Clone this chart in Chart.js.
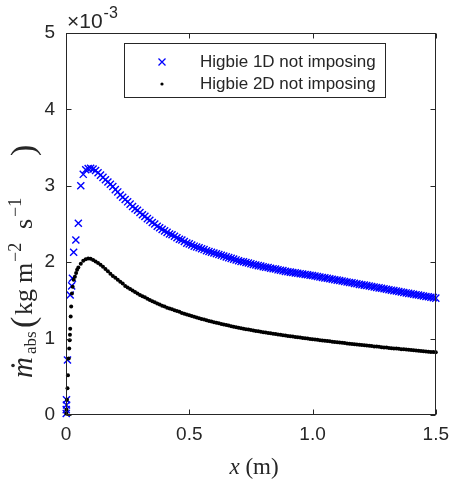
<!DOCTYPE html>
<html>
<head>
<meta charset="utf-8">
<script src="https://cdn.jsdelivr.net/npm/chart.js@4.4.0/dist/chart.umd.min.js"></script>
<style>
  html, body { margin: 0; padding: 0; background: #fff; }
  canvas { display: block; }
</style>
</head>
<body>
<canvas id="flux-chart" width="457" height="483"></canvas>
<script>
// absorbed mass flux (in units of 1e-3 kg m^-2 s^-1) along the plate, x in m

const xTickValues = [0, 0.5, 1, 1.5];
const yTickValues = [0, 1, 2, 3, 4, 5];

// leading-edge samples (irregular spacing)
const x1DHead = [0.001, 0.001, 0.002, 0.002, 0.006, 0.017, 0.023, 0.026, 0.031, 0.040];
const y1DHead = [0.02, 0.07, 0.13, 0.20, 0.72, 1.57, 1.69, 1.79, 2.13, 2.29];

const x2DHead = [0.001, 0.002, 0.004, 0.006, 0.008, 0.011, 0.013, 0.015, 0.016,
                 0.017, 0.019, 0.021, 0.024, 0.027, 0.031, 0.036, 0.041, 0.045];
const y2DHead = [0.02, 0.07, 0.20, 0.35, 0.52, 0.74, 0.87, 0.98, 1.05,
                 1.13, 1.29, 1.42, 1.59, 1.68, 1.77, 1.81, 1.86, 1.90];

// regular grid from 0.05 m to 1.5 m
const xGrid = [
  0.05, 0.06, 0.07, 0.08, 0.09, 0.10, 0.11, 0.12, 0.13, 0.14,
  0.15, 0.16, 0.17, 0.18, 0.19, 0.20, 0.21, 0.22, 0.23, 0.24,
  0.25, 0.26, 0.27, 0.28, 0.29, 0.30, 0.31, 0.32, 0.33, 0.34,
  0.35, 0.36, 0.37, 0.38, 0.39, 0.40, 0.41, 0.42, 0.43, 0.44,
  0.45, 0.46, 0.47, 0.48, 0.49, 0.50, 0.51, 0.52, 0.53, 0.54,
  0.55, 0.56, 0.57, 0.58, 0.59, 0.60, 0.61, 0.62, 0.63, 0.64,
  0.65, 0.66, 0.67, 0.68, 0.69, 0.70, 0.71, 0.72, 0.73, 0.74,
  0.75, 0.76, 0.77, 0.78, 0.79, 0.80, 0.81, 0.82, 0.83, 0.84,
  0.85, 0.86, 0.87, 0.88, 0.89, 0.90, 0.91, 0.92, 0.93, 0.94,
  0.95, 0.96, 0.97, 0.98, 0.99, 1.00, 1.01, 1.02, 1.03, 1.04,
  1.05, 1.06, 1.07, 1.08, 1.09, 1.10, 1.11, 1.12, 1.13, 1.14,
  1.15, 1.16, 1.17, 1.18, 1.19, 1.20, 1.21, 1.22, 1.23, 1.24,
  1.25, 1.26, 1.27, 1.28, 1.29, 1.30, 1.31, 1.32, 1.33, 1.34,
  1.35, 1.36, 1.37, 1.38, 1.39, 1.40, 1.41, 1.42, 1.43, 1.44,
  1.45, 1.46, 1.47, 1.48, 1.49, 1.50
];

const y1DGrid = [
  2.51, 3.00, 3.15, 3.21, 3.225, 3.23, 3.22, 3.20, 3.17, 3.14,
  3.11, 3.08, 3.05, 3.02, 2.99, 2.95, 2.92, 2.88, 2.85, 2.82,
  2.79, 2.76, 2.73, 2.70, 2.68, 2.65, 2.62, 2.60, 2.57, 2.55,
  2.52, 2.50, 2.47, 2.45, 2.43, 2.41, 2.39, 2.37, 2.36, 2.34,
  2.32, 2.30, 2.29, 2.27, 2.25, 2.24, 2.225, 2.21, 2.20, 2.19,
  2.175, 2.165, 2.15, 2.14, 2.13, 2.12, 2.11, 2.10, 2.09, 2.08,
  2.07, 2.06, 2.05, 2.04, 2.03, 2.02, 2.01, 2.005, 1.995, 1.99,
  1.98, 1.97, 1.963, 1.955, 1.95, 1.94, 1.935, 1.93, 1.92, 1.915,
  1.91, 1.90, 1.895, 1.89, 1.88, 1.875, 1.87, 1.865, 1.86, 1.855,
  1.85, 1.845, 1.84, 1.835, 1.83, 1.825, 1.82, 1.813, 1.807, 1.80,
  1.795, 1.79, 1.783, 1.777, 1.77, 1.765, 1.76, 1.753, 1.747, 1.74,
  1.735, 1.73, 1.723, 1.717, 1.71, 1.705, 1.70, 1.694, 1.688, 1.682,
  1.676, 1.67, 1.664, 1.658, 1.652, 1.646, 1.64, 1.634, 1.628, 1.622,
  1.616, 1.61, 1.604, 1.598, 1.592, 1.586, 1.58, 1.575, 1.57, 1.564,
  1.558, 1.552, 1.547, 1.541, 1.536, 1.53
];

const y2DGrid = [
  1.93, 1.98, 2.02, 2.04, 2.05, 2.045, 2.03, 2.01, 1.99, 1.965,
  1.94, 1.91, 1.88, 1.85, 1.82, 1.795, 1.77, 1.745, 1.72, 1.69,
  1.67, 1.65, 1.63, 1.61, 1.59, 1.57, 1.555, 1.54, 1.52, 1.505,
  1.49, 1.475, 1.46, 1.445, 1.43, 1.42, 1.405, 1.395, 1.385, 1.37,
  1.36, 1.35, 1.335, 1.325, 1.315, 1.305, 1.295, 1.285, 1.275, 1.265,
  1.258, 1.25, 1.24, 1.232, 1.225, 1.215, 1.207, 1.20, 1.192, 1.185,
  1.178, 1.17, 1.163, 1.156, 1.15, 1.143, 1.137, 1.13, 1.124, 1.118,
  1.112, 1.106, 1.10, 1.095, 1.09, 1.084, 1.079, 1.074, 1.069, 1.064,
  1.059, 1.054, 1.049, 1.044, 1.04, 1.035, 1.03, 1.026, 1.022, 1.017,
  1.013, 1.009, 1.005, 1.0, 0.996, 0.992, 0.988, 0.984, 0.98, 0.976,
  0.972, 0.968, 0.964, 0.96, 0.956, 0.952, 0.948, 0.945, 0.941, 0.937,
  0.934, 0.93, 0.926, 0.923, 0.919, 0.916, 0.912, 0.909, 0.905, 0.902,
  0.898, 0.895, 0.892, 0.888, 0.885, 0.882, 0.878, 0.875, 0.872, 0.869,
  0.866, 0.862, 0.859, 0.856, 0.853, 0.85, 0.847, 0.844, 0.841, 0.838,
  0.835, 0.832, 0.829, 0.826, 0.823, 0.82
];

const AXIS_COLOR = '#262626';
const BLUE = '#0000ff';
const SANS = '"Liberation Sans", Arial, sans-serif';
const SERIF = '"Liberation Serif", "Times New Roman", serif';

function toPoints(xs, ys) {
  return xs.map((x, i) => ({ x: x, y: ys[i] }));
}

const points1D = toPoints(x1DHead.concat(xGrid), y1DHead.concat(y1DGrid));
const points2D = toPoints(x2DHead.concat(xGrid), y2DHead.concat(y2DGrid));

// box, inward ticks, legend and the hand-set titles
const axesFrame = {
  id: 'axesFrame',
  afterDraw(chart) {
    const ctx = chart.ctx;
    const area = chart.chartArea;
    const sx = chart.scales.x;
    const sy = chart.scales.y;
    const l = Math.round(area.left) + 0.5;
    const r = Math.round(area.right) - 0.5;
    const t = Math.round(area.top) + 0.5;
    const b = Math.round(area.bottom) - 0.5;

    ctx.save();
    ctx.strokeStyle = AXIS_COLOR;
    ctx.lineWidth = 1;
    ctx.strokeRect(l, t, r - l, b - t);

    ctx.beginPath();
    xTickValues.forEach(v => {
      const px = Math.round(sx.getPixelForValue(v)) + 0.5;
      ctx.moveTo(px, b); ctx.lineTo(px, b - 5);
      ctx.moveTo(px, t); ctx.lineTo(px, t + 5);
    });
    yTickValues.forEach(v => {
      const py = Math.round(sy.getPixelForValue(v)) + 0.5;
      ctx.moveTo(l, py); ctx.lineTo(l + 5, py);
      ctx.moveTo(r, py); ctx.lineTo(r - 5, py);
    });
    ctx.stroke();

    // legend
    ctx.fillStyle = '#fff';
    ctx.fillRect(124, 43, 261, 54);
    ctx.strokeRect(124.5, 43.5, 261, 54);
    const ds = chart.data.datasets;
    ctx.font = '17px ' + SANS;
    ctx.textBaseline = 'middle';
    ctx.textAlign = 'left';
    ctx.fillStyle = AXIS_COLOR;
    ctx.fillText(ds[0].label, 200, 62);
    ctx.fillText(ds[1].label, 200, 84);
    ctx.strokeStyle = BLUE;
    ctx.lineWidth = 1.3;
    ctx.beginPath();
    ctx.moveTo(158.5, 58.5); ctx.lineTo(165.5, 65.5);
    ctx.moveTo(165.5, 58.5); ctx.lineTo(158.5, 65.5);
    ctx.stroke();
    ctx.fillStyle = '#000';
    ctx.beginPath();
    ctx.arc(162, 84, 1.6, 0, Math.PI * 2);
    ctx.fill();

    // exponent label above the y axis
    ctx.fillStyle = AXIS_COLOR;
    ctx.textBaseline = 'alphabetic';
    ctx.font = '21px ' + SANS;
    ctx.fillText('\u00d710', 67, 28);
    const w10 = ctx.measureText('\u00d710').width;
    ctx.font = '16px ' + SANS;
    ctx.fillText('-3', 67 + w10 + 1, 18);

    // x axis title
    ctx.font = 'italic 23px ' + SERIF;
    const wx = ctx.measureText('x').width;
    ctx.font = '23px ' + SERIF;
    const wm = ctx.measureText(' (m)').width;
    const x0 = 254 - (wx + wm) / 2;
    ctx.font = 'italic 23px ' + SERIF;
    ctx.fillText('x', x0, 474);
    ctx.font = '23px ' + SERIF;
    ctx.fillText(' (m)', x0 + wx, 474);

    // y axis title, drawn upwards; at = distance from the bottom end
    const pieces = [
      { s: 'm', f: 'italic 29px ' + SERIF, at: 0, dy: 0, dot: true },
      { s: 'abs', f: '17px ' + SERIF, at: 24, dy: 4 },
      { s: '(', f: '34px ' + SERIF, at: 50, dy: 2 },
      { s: 'kg', f: '26px ' + SERIF, at: 63, dy: 0 },
      { s: 'm', f: '26px ' + SERIF, at: 95, dy: 0 },
      { s: '\u22122', f: '18px ' + SERIF, at: 116, dy: -11 },
      { s: 's', f: '26px ' + SERIF, at: 149, dy: 0 },
      { s: '\u22121', f: '18px ' + SERIF, at: 161, dy: -11 },
      { s: ')', f: '34px ' + SERIF, at: 222, dy: 2 }
    ];
    ctx.translate(32, 378);
    ctx.rotate(-Math.PI / 2);
    pieces.forEach(p => {
      ctx.font = p.f;
      const w = ctx.measureText(p.s).width;
      ctx.fillText(p.s, p.at, p.dy);
      if (p.dot) {
        ctx.beginPath();
        ctx.arc(p.at + w / 2 + 2, -19, 1.8, 0, Math.PI * 2);
        ctx.fill();
      }
    });
    ctx.restore();
  }
};

function setTicks(values) {
  return scale => { scale.ticks = values.map(v => ({ value: v })); };
}

Chart.defaults.font.family = SANS;
Chart.defaults.color = AXIS_COLOR;

new Chart(document.getElementById('flux-chart'), {
  type: 'scatter',
  data: {
    datasets: [{
      label: 'Higbie 1D not imposing',
      data: points1D,
      pointStyle: 'crossRot',
      pointRadius: 5,
      borderColor: BLUE,
      backgroundColor: BLUE,
      borderWidth: 1.4,
      order: 1,
      clip: false
    }, {
      label: 'Higbie 2D not imposing',
      data: points2D,
      pointStyle: 'circle',
      pointRadius: 2,
      backgroundColor: '#000',
      borderWidth: 0,
      order: 0,
      clip: false
    }]
  },
  options: {
    responsive: false,
    animation: false,
    devicePixelRatio: 1,
    layout: { padding: { top: 33, right: 15, left: 0, bottom: 0 } },
    plugins: { legend: { display: false }, tooltip: { enabled: false } },
    scales: {
      x: {
        type: 'linear', min: 0, max: 1.5,
        grid: { display: false, drawTicks: false },
        border: { display: false },
        ticks: { padding: 8, font: { size: 19 }, color: AXIS_COLOR, maxRotation: 0 },
        afterBuildTicks: setTicks(xTickValues),
        afterFit: s => { s.height = 68; }
      },
      y: {
        type: 'linear', min: 0, max: 5,
        grid: { display: false, drawTicks: false },
        border: { display: false },
        ticks: { padding: 11, font: { size: 19 }, color: AXIS_COLOR },
        afterBuildTicks: setTicks(yTickValues),
        afterFit: s => { s.width = 66; }
      }
    }
  },
  plugins: [axesFrame]
});
</script>
</body>
</html>
